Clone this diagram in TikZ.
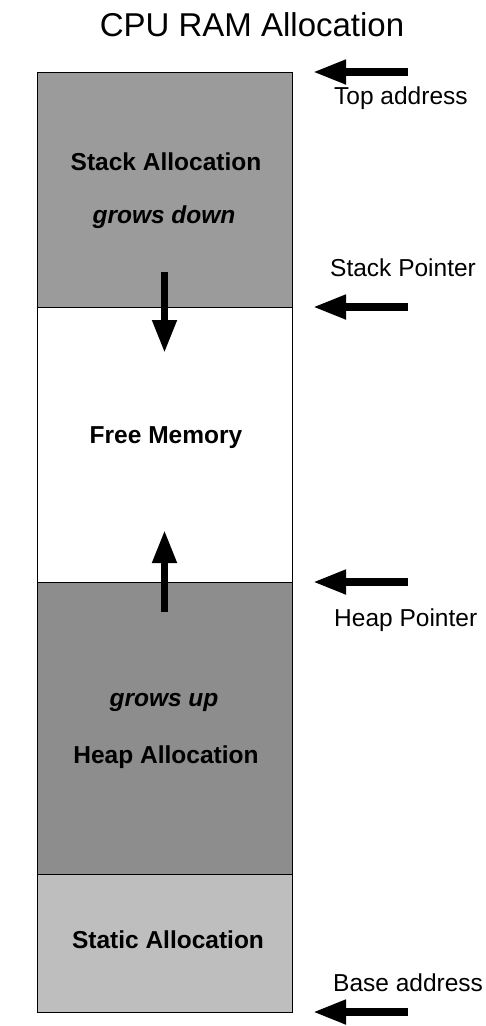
\documentclass[tikz,border=0pt]{standalone}
\usepackage{fontspec}
\setmainfont{Liberation Sans}
\usepackage{xcolor}
\usepackage{tikz}
\usetikzlibrary{arrows.meta,positioning}

\definecolor{stackgray}{HTML}{9B9B9B}
\definecolor{heapgray}{HTML}{8D8D8D}
\definecolor{staticgray}{HTML}{BEBEBE}

\begin{document}
\begin{tikzpicture}[
    x=1pt, y=-1pt,
    region/.style={draw, line width=0.8pt, minimum width=255pt, inner sep=0pt, outer sep=0pt},
    lbl/.style={font=\fontsize{24.5}{28}\selectfont\bfseries, inner sep=0pt},
    side/.style={font=\fontsize{24.5}{28}\selectfont, anchor=west, inner sep=0pt},
    ptr/.style={-{Triangle[length=33pt,width=23pt]}, line width=7.5pt}
]
    \useasboundingbox (0,0) rectangle (486,1026);

    \node[font=\fontsize{33}{38}\selectfont] (title) at (252,25) {CPU RAM Allocation};

    % memory regions, top to bottom
    \node[region, fill=stackgray, minimum height=235pt] (stack) at (164.5,189.5) {};
    \node[region, fill=white, minimum height=275pt] (free) at (164.5,444.5) {};
    \node[region, fill=heapgray, minimum height=292pt] (heap) at (164.5,728) {};
    \node[region, fill=staticgray, minimum height=138pt] (static) at (164.5,943) {};

    \node[lbl] (stacktxt) at (166,162) {Stack Allocation};
    \node[lbl, font=\fontsize{24.5}{28}\selectfont\bfseries\itshape] (down) at (164,217) {grows down};
    \node[lbl] (freetxt) at (166,438) {Free Memory};
    \node[lbl, font=\fontsize{24.5}{28}\selectfont\bfseries\itshape] (up) at (164,702) {grows up};
    \node[lbl] (heaptxt) at (166,757) {Heap Allocation};
    \node[lbl] (statictxt) at (168,940) {Static Allocation};

    % growth arrows
    \draw[ptr] ([yshift=35pt]stack.south) -- ([yshift=-46pt]free.north);
    \draw[ptr] ([yshift=-30pt]heap.north) -- ([yshift=52pt]free.south);

    % pointers on the right
    \coordinate (toptail) at (408,72);
    \coordinate (sptail) at (408,307);
    \coordinate (hptail) at (408,582);
    \coordinate (basetail) at (408,1012);
    \draw[ptr, shorten >=21pt] (toptail) -- (stack.north east);
    \draw[ptr, shorten >=21pt] (sptail) -- (stack.south east);
    \draw[ptr, shorten >=21pt] (hptail) -- (heap.north east);
    \draw[ptr, shorten >=21pt] (basetail) -- (static.south east);

    \node[side] (toplbl) at (334,98) {Top address};
    \node[side] (splbl) at (330,268) {Stack Pointer};
    \node[side] (hplbl) at (334,620) {Heap Pointer};
    \node[side] (baselbl) at (333,983) {Base address};
\end{tikzpicture}
\end{document}
